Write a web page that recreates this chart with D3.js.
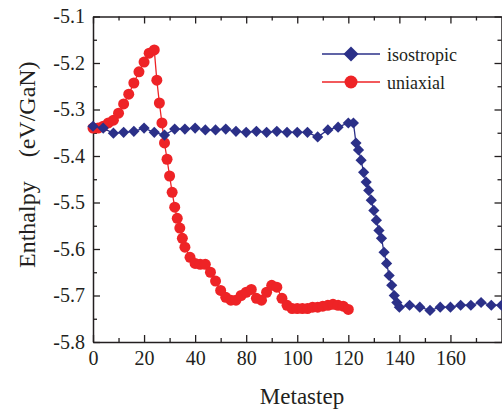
<!DOCTYPE html>
<html>
<head>
<meta charset="utf-8">
<script src="https://cdn.jsdelivr.net/npm/d3@7"></script>
<style>
  html, body { margin: 0; padding: 0; background: #fff; overflow: hidden; }
  svg text { font-family: 'Liberation Serif', 'Times New Roman', serif; fill: #231f20; }
</style>
</head>
<body>
<div id="chart"></div>
<script>
(function() {
  'use strict';
  var WIDTH = 502;
  var HEIGHT = 414;

  // x tick positions and the labels printed under them (as in the figure)
  var xTicks = [0, 20, 40, 60, 80, 100, 120, 140];
  var xLabels = ['0', '20', '40', '80', '100', '120', '140', '160'];
  var yTicks = [-5.1, -5.2, -5.3, -5.4, -5.5, -5.6, -5.7, -5.8];
  var yLabels = ['-5.1', '-5.2', '-5.3', '-5.4', '-5.5', '-5.6', '-5.7', '-5.8'];

  var seriesNames = ['isostropic', 'uniaxial'];
  var seriesColors = ['#2b3088', '#ee2326'];

  var isoX = [0, 4, 8, 12, 16, 20, 24, 28, 32, 36, 40, 44, 48, 52, 56, 60, 64, 68, 72, 76, 80, 84, 88, 92, 96, 100,
    102, 103, 104, 105, 106, 107, 108, 109, 110, 111, 112, 113, 114, 115, 116, 117, 118, 119, 120,
    124, 128, 132, 136, 140, 144, 148, 152, 156, 160];
  var isoY = [-5.336, -5.340, -5.351, -5.349, -5.347, -5.340, -5.349, -5.355, -5.342, -5.342, -5.340, -5.344, -5.344,
    -5.342, -5.347, -5.349, -5.347, -5.349, -5.347, -5.349, -5.349, -5.349, -5.359, -5.344, -5.338, -5.329,
    -5.329, -5.372, -5.387, -5.409, -5.435, -5.456, -5.474, -5.495, -5.517, -5.538, -5.560, -5.577, -5.607,
    -5.631, -5.657, -5.678, -5.700, -5.715, -5.725,
    -5.721, -5.725, -5.732, -5.725, -5.725, -5.721, -5.721, -5.715, -5.721, -5.721];

  var uniX = [0, 2, 4, 6, 8, 10, 12, 14, 16, 18, 20, 22, 24, 25, 26, 27, 28, 29, 30, 31, 32, 33, 34, 35, 36,
    38, 40, 42, 44, 46, 48, 50, 52, 54, 56, 58, 60, 62, 64, 66, 68, 70, 72, 74, 76, 78, 80, 82, 84, 86, 88,
    90, 92, 94, 96, 98, 100];
  var uniY = [-5.340, -5.340, -5.336, -5.329, -5.323, -5.308, -5.288, -5.267, -5.243, -5.219, -5.198, -5.179, -5.172,
    -5.237, -5.286, -5.329, -5.372, -5.407, -5.443, -5.478, -5.510, -5.534, -5.555, -5.577, -5.596,
    -5.618, -5.631, -5.633, -5.633, -5.650, -5.669, -5.689, -5.704, -5.710, -5.710, -5.700, -5.693, -5.687,
    -5.706, -5.710, -5.693, -5.678, -5.682, -5.706, -5.721, -5.728, -5.728, -5.728, -5.728, -5.725, -5.725,
    -5.723, -5.721, -5.719, -5.721, -5.723, -5.730];

  var margin = {top: 16.5, right: 0.5, bottom: 72, left: 93};

  var svg = d3.select('#chart').append('svg')
    .attr('width', WIDTH)
    .attr('height', HEIGHT);

  var x = d3.scaleLinear().domain([0, 160]).range([margin.left, WIDTH - margin.right]);
  var y = d3.scaleLinear().domain([-5.8, -5.1]).range([HEIGHT - margin.bottom, margin.top]);

  function styleAxis(g) {
    g.selectAll('path').attr('stroke', '#231f20').attr('stroke-width', 1.5);
    g.selectAll('line').attr('stroke', '#231f20').attr('stroke-width', 1.3);
    g.selectAll('text').attr('font-size', 20).attr('fill', '#231f20');
  }

  var xMinor = d3.range(10, 160, 20);
  var yMinor = d3.range(0, 7).map(function(i) { return -5.75 + i * 0.1; });

  // minor ticks first, on all four sides
  svg.append('g').attr('transform', 'translate(0,' + y(-5.8) + ')')
    .call(d3.axisBottom(x).tickValues(xMinor).tickSize(-4).tickSizeOuter(0).tickFormat(''))
    .call(styleAxis).select('.domain').remove();
  svg.append('g').attr('transform', 'translate(0,' + y(-5.1) + ')')
    .call(d3.axisTop(x).tickValues(xMinor).tickSize(-4).tickSizeOuter(0).tickFormat(''))
    .call(styleAxis).select('.domain').remove();
  svg.append('g').attr('transform', 'translate(' + x(0) + ',0)')
    .call(d3.axisLeft(y).tickValues(yMinor).tickSize(-4).tickSizeOuter(0).tickFormat(''))
    .call(styleAxis).select('.domain').remove();
  svg.append('g').attr('transform', 'translate(' + x(160) + ',0)')
    .call(d3.axisRight(y).tickValues(yMinor).tickSize(-4).tickSizeOuter(0).tickFormat(''))
    .call(styleAxis).select('.domain').remove();

  // major ticks + frame
  svg.append('g').attr('transform', 'translate(0,' + y(-5.8) + ')')
    .call(d3.axisBottom(x).tickValues(xTicks).tickSize(-7).tickSizeOuter(0).tickPadding(9)
      .tickFormat(function(d, i) { return xLabels[i]; }))
    .call(styleAxis);
  svg.append('g').attr('transform', 'translate(0,' + y(-5.1) + ')')
    .call(d3.axisTop(x).tickValues(xTicks).tickSize(-7).tickSizeOuter(0).tickFormat(''))
    .call(styleAxis);
  svg.append('g').attr('transform', 'translate(' + x(0) + ',0)')
    .call(d3.axisLeft(y).tickValues(yTicks).tickSize(-7).tickSizeOuter(0).tickPadding(8)
      .tickFormat(function(d, i) { return yLabels[i]; }))
    .call(styleAxis);
  svg.append('g').attr('transform', 'translate(' + x(160) + ',0)')
    .call(d3.axisRight(y).tickValues(yTicks).tickSize(-7).tickSizeOuter(0).tickFormat(''))
    .call(styleAxis);

  // axis titles
  svg.append('text')
    .attr('x', 302)
    .attr('y', 404)
    .attr('text-anchor', 'middle')
    .attr('font-size', 23)
    .text('Metastep');

  var yTitle = svg.append('text')
    .attr('transform', 'translate(35,268) rotate(-90)')
    .attr('font-size', 24);
  yTitle.append('tspan').text('Enthalpy');
  yTitle.append('tspan').attr('dx', 24).text('(eV/GaN)');

  function diamond(r) {
    return 'M0,' + (-r) + 'L' + r + ',0L0,' + r + 'L' + (-r) + ',0Z';
  }

  var line = d3.line()
    .x(function(d) { return x(d[0]); })
    .y(function(d) { return y(d[1]); });

  var uniData = uniX.map(function(v, i) { return [v, uniY[i]]; });
  var isoData = isoX.map(function(v, i) { return [v, isoY[i]]; });

  // uniaxial (drawn underneath)
  svg.append('path')
    .datum(uniData)
    .attr('d', line)
    .attr('fill', 'none')
    .attr('stroke', seriesColors[1])
    .attr('stroke-width', 1.3);
  svg.append('g').selectAll('circle')
    .data(uniData)
    .enter().append('circle')
    .attr('cx', function(d) { return x(d[0]); })
    .attr('cy', function(d) { return y(d[1]); })
    .attr('r', 5.5)
    .attr('fill', seriesColors[1]);

  // isostropic
  svg.append('path')
    .datum(isoData)
    .attr('d', line)
    .attr('fill', 'none')
    .attr('stroke', seriesColors[0])
    .attr('stroke-width', 1.3);
  svg.append('g').selectAll('path')
    .data(isoData)
    .enter().append('path')
    .attr('transform', function(d) { return 'translate(' + x(d[0]) + ',' + y(d[1]) + ')'; })
    .attr('d', diamond(5.6))
    .attr('fill', seriesColors[0]);

  // legend
  var legend = svg.append('g').attr('transform', 'translate(322,54)');
  seriesNames.forEach(function(name, i) {
    var row = legend.append('g').attr('transform', 'translate(0,' + (i * 28) + ')');
    row.append('line')
      .attr('x1', 0).attr('x2', 58)
      .attr('y1', 0).attr('y2', 0)
      .attr('stroke', seriesColors[i])
      .attr('stroke-width', 1.3);
    if (i === 0) {
      row.append('path')
        .attr('transform', 'translate(29,0)')
        .attr('d', diamond(7.5))
        .attr('fill', seriesColors[i]);
    } else {
      row.append('circle')
        .attr('cx', 29).attr('cy', 0).attr('r', 6.5)
        .attr('fill', seriesColors[i]);
    }
    row.append('text')
      .attr('x', 65)
      .attr('y', 7)
      .attr('font-size', 18)
      .text(name);
  });
})();
</script>
</body>
</html>
